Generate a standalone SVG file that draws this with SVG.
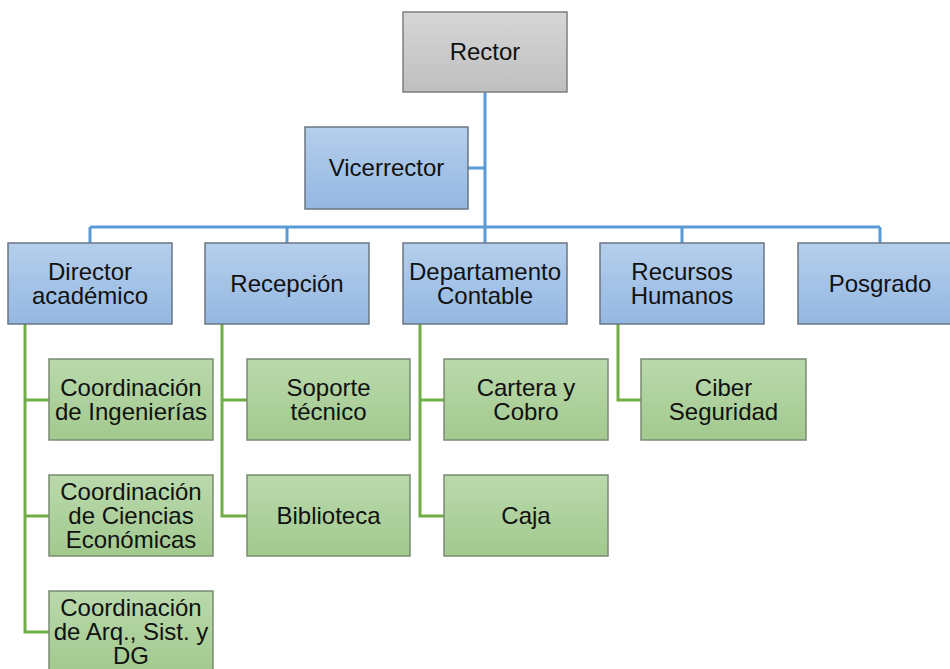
<svg xmlns="http://www.w3.org/2000/svg" width="950" height="669" viewBox="0 0 950 669">
<defs>
<linearGradient id="gGray" x1="0" y1="0" x2="0" y2="1"><stop offset="0" stop-color="#d6d6d6"/><stop offset="1" stop-color="#bfbfbf"/></linearGradient>
<linearGradient id="gBlue" x1="0" y1="0" x2="0" y2="1"><stop offset="0" stop-color="#b5cfec"/><stop offset="1" stop-color="#94b7e2"/></linearGradient>
<linearGradient id="gGreen" x1="0" y1="0" x2="0" y2="1"><stop offset="0" stop-color="#bad9ac"/><stop offset="1" stop-color="#a2c98e"/></linearGradient>
</defs>
<style>
.gray{fill:url(#gGray);stroke:#7f7f7f;stroke-width:1.5}
.blue{fill:url(#gBlue);stroke:#6b7683;stroke-width:1.5}
.green{fill:url(#gGreen);stroke:#7a8a72;stroke-width:1.5}
text{font-family:"Liberation Sans",Arial,sans-serif;font-size:24px;fill:#111;text-anchor:middle}
.lb{stroke:#5b9bd5;stroke-width:3;fill:none}
.lg{stroke:#70ad47;stroke-width:3;fill:none}
</style>
<rect width="950" height="669" fill="#fff"/>
<g id="connectors">
<path class="lb" d="M485 92V243M468 168H485M90 227H880M90 227V243M287 227V243M682 227V243M880 227V243"/>
<path class="lg" d="M25 324V632H49M25 400H49M25 516H49"/>
<path class="lg" d="M222 324V516H247M222 400H247"/>
<path class="lg" d="M420 324V516H444M420 400H444"/>
<path class="lg" d="M618 324V400H641"/>
</g>
<g id="rector"><rect class="gray" x="403" y="12" width="164" height="80"/><text x="485" y="60">Rector</text></g>
<g id="vicerrector"><rect class="blue" x="305" y="127" width="163" height="82"/><text x="386.5" y="176">Vicerrector</text></g>
<g id="director"><rect class="blue" x="8" y="243" width="164" height="81"/><text x="90" y="280">Director</text><text x="90" y="304">académico</text></g>
<g id="recepcion"><rect class="blue" x="205" y="243" width="164" height="81"/><text x="287" y="292">Recepción</text></g>
<g id="departamento"><rect class="blue" x="403" y="243" width="164" height="81"/><text x="485" y="280">Departamento</text><text x="485" y="304">Contable</text></g>
<g id="rrhh"><rect class="blue" x="600" y="243" width="164" height="81"/><text x="682" y="280">Recursos</text><text x="682" y="304">Humanos</text></g>
<g id="posgrado"><rect class="blue" x="798" y="243" width="164" height="81"/><text x="880" y="292">Posgrado</text></g>
<g id="coord-ing"><rect class="green" x="49" y="359" width="164" height="81"/><text x="131" y="396">Coordinación</text><text x="131" y="420">de Ingenierías</text></g>
<g id="coord-eco"><rect class="green" x="49" y="475" width="164" height="81"/><text x="131" y="500">Coordinación</text><text x="131" y="524">de Ciencias</text><text x="131" y="548">Económicas</text></g>
<g id="coord-arq"><rect class="green" x="49" y="591" width="164" height="81"/><text x="131" y="616">Coordinación</text><text x="131" y="640">de Arq., Sist. y</text><text x="131" y="664">DG</text></g>
<g id="soporte"><rect class="green" x="247" y="359" width="163" height="81"/><text x="328.5" y="396">Soporte</text><text x="328.5" y="420">técnico</text></g>
<g id="biblioteca"><rect class="green" x="247" y="475" width="163" height="81"/><text x="328.5" y="524">Biblioteca</text></g>
<g id="cartera"><rect class="green" x="444" y="359" width="164" height="81"/><text x="526" y="396">Cartera y</text><text x="526" y="420">Cobro</text></g>
<g id="caja"><rect class="green" x="444" y="475" width="164" height="81"/><text x="526" y="524">Caja</text></g>
<g id="ciber"><rect class="green" x="641" y="359" width="165" height="81"/><text x="723.5" y="396">Ciber</text><text x="723.5" y="420">Seguridad</text></g>
</svg>
